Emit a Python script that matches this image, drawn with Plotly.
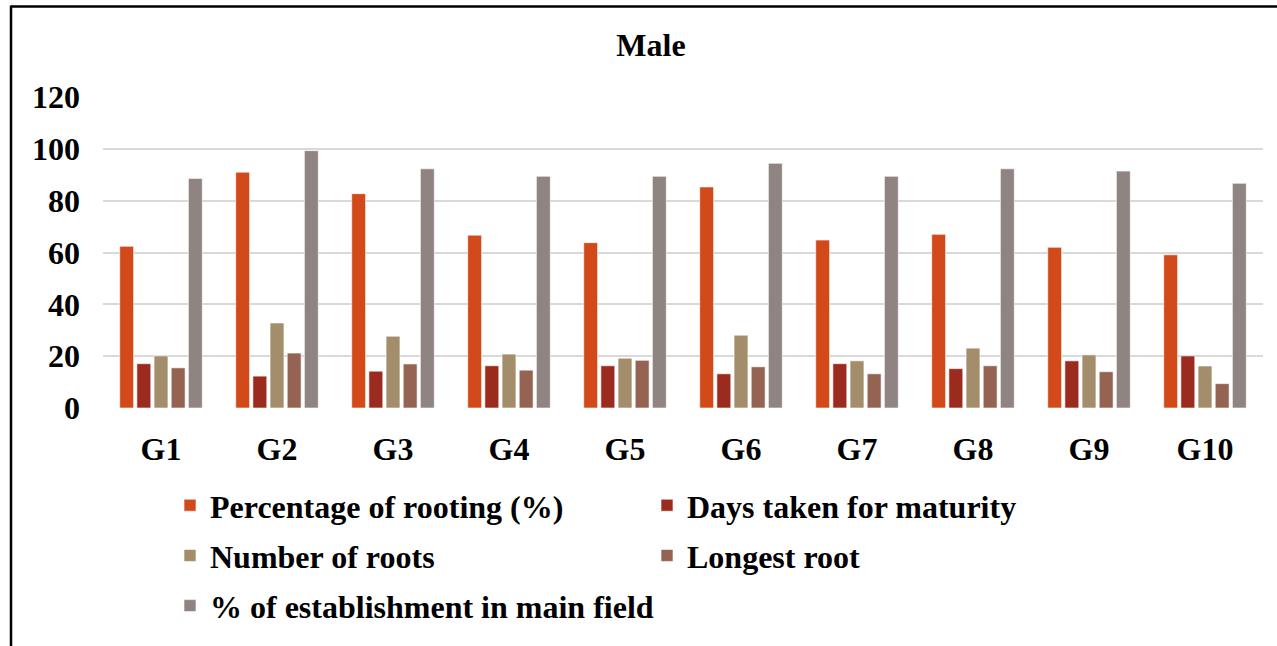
import plotly.graph_objects as go

categories = ["G1", "G2", "G3", "G4", "G5", "G6", "G7", "G8", "G9", "G10"]
series_names = [
    "Percentage of rooting (%)",
    "Days taken for maturity",
    "Number of roots",
    "Longest root",
    "% of establishment in main field",
]
rooting_pct = [62.4, 91.0, 82.7, 66.7, 63.8, 85.3, 64.8, 67.0, 62.0, 59.1]
days_maturity = [17.1, 12.3, 14.2, 16.3, 16.3, 13.2, 17.1, 15.2, 18.2, 20.1]
num_roots = [20.1, 32.8, 27.7, 20.8, 19.2, 28.1, 18.2, 23.1, 20.5, 16.2]
longest_root = [15.5, 21.2, 17.0, 14.6, 18.4, 15.9, 13.2, 16.3, 14.0, 9.4]
establishment_pct = [88.6, 99.3, 92.3, 89.4, 89.4, 94.4, 89.4, 92.3, 91.4, 86.7]
y_ticks = [0, 20, 40, 60, 80, 100, 120]

series_values = [rooting_pct, days_maturity, num_roots, longest_root, establishment_pct]
colors = ["#D24A19", "#9C2B1F", "#A38D6A", "#956351", "#908483"]

W, H = 1277, 646
ML, MR, MT = 103, 14, 97
BOTTOM = 413
MB = H - BOTTOM
PW = W - ML - MR
PH = H - MT - MB

def px_x(p):
    return (p - ML) / PW

def px_y(p):
    return (BOTTOM - p) / PH

legend_pos = [(170, 512), (647, 512), (170, 563), (647, 563), (170, 614)]
font_family = "Liberation Serif"
FS = 32

fig = go.Figure()
for i, (name, vals, col) in enumerate(zip(series_names, series_values, colors)):
    lg = "legend" if i == 0 else f"legend{i+1}"
    fig.add_trace(go.Bar(
        x=categories, y=vals, name=name,
        marker=dict(color=col, line=dict(color="rgba(255,255,255,0.6)", width=1)),
        legend=lg,
    ))

layout_legends = {}
for i, (lx, ly) in enumerate(legend_pos):
    key = "legend" if i == 0 else f"legend{i+1}"
    layout_legends[key] = dict(
        x=px_x(lx), y=px_y(ly), xanchor="left", yanchor="middle",
        orientation="h", bgcolor="rgba(0,0,0,0)",
        font=dict(family=font_family, size=FS, color="black", weight="bold"),
    )

fig.update_layout(
    width=W, height=H,
    margin=dict(l=ML, r=MR, t=MT, b=MB),
    paper_bgcolor="white", plot_bgcolor="white",
    barmode="group", bargap=0.26, bargroupgap=0.19,
    title=dict(text="Male", x=px_x(651), xref="paper", xanchor="center",
               y=1 - 45 / H, yanchor="middle",
               font=dict(family=font_family, size=FS, color="black", weight="bold")),
    font=dict(family=font_family, color="black"),
    showlegend=True,
    **layout_legends,
)

fig.update_yaxes(
    range=[0, 120], tickvals=y_ticks, showgrid=True, gridcolor="#D9D9D9", gridwidth=2,
    zeroline=False, showline=False, ticks="", ticklabelstandoff=22,
    tickfont=dict(family=font_family, size=FS, color="black", weight="bold"),
)
fig.update_xaxes(
    showgrid=False, showline=False, ticks="", ticklabelstandoff=19,
    tickfont=dict(family=font_family, size=FS, color="black", weight="bold"),
)

fig.add_shape(type="line", xref="paper", yref="paper",
              x0=px_x(11), x1=px_x(11), y0=px_y(4), y1=px_y(660),
              line=dict(color="black", width=2.5))
fig.add_shape(type="line", xref="paper", yref="paper",
              x0=px_x(11), x1=px_x(1290), y0=px_y(5), y1=px_y(5),
              line=dict(color="black", width=2.5))

fig.write_html(
    "out.html",
    config={"displayModeBar": False},
    post_script="document.body.style.margin='0';document.body.style.overflow='hidden';",
)
